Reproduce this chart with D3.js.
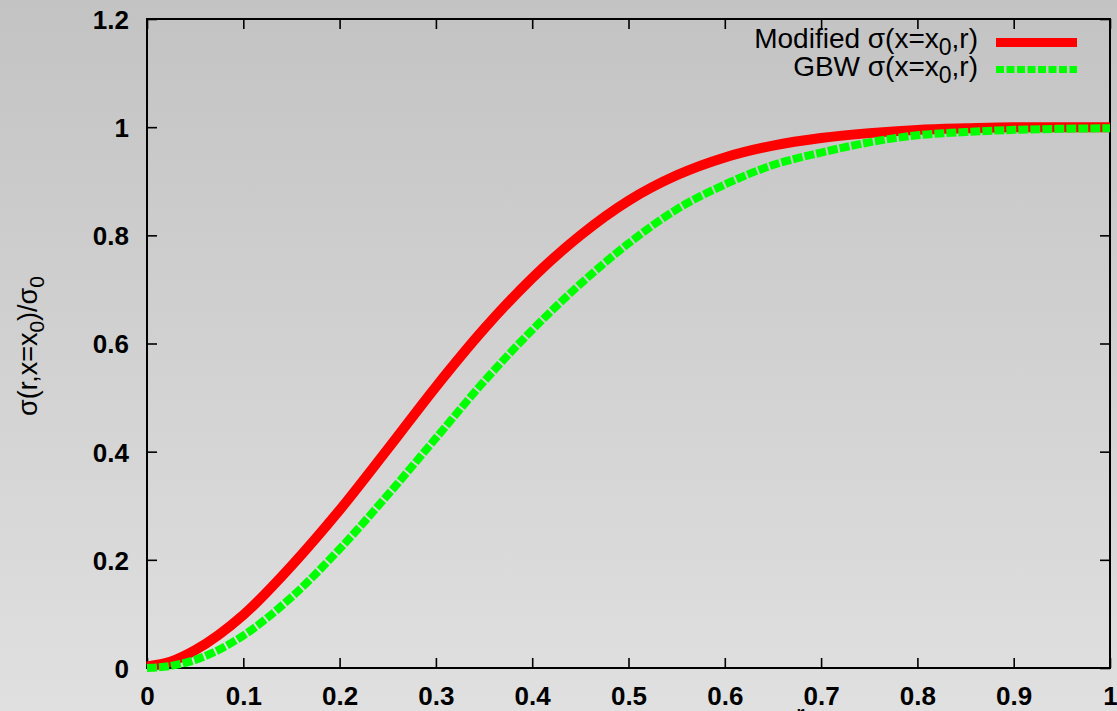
<!DOCTYPE html>
<html>
<head>
<meta charset="utf-8">
<script src="https://cdn.jsdelivr.net/npm/d3@7"></script>
<style>
  html, body { margin: 0; padding: 0; overflow: hidden; }
  svg { display: block; }
  text { font-family: "Liberation Sans", Arial, Helvetica, sans-serif; fill: #000; }
</style>
</head>
<body>
<svg id="chart" width="1117" height="711"></svg>
<script>
// Dipole cross section at x = x0, normalised to sigma_0, versus r
const rValues = [0, 0.025, 0.05, 0.1, 0.15, 0.2, 0.25, 0.3, 0.35, 0.4, 0.45, 0.5,
                 0.55, 0.6, 0.65, 0.7, 0.75, 0.8, 0.85, 0.9, 0.95, 1.0];
const modifiedSigma = [0.003, 0.012, 0.033, 0.098, 0.189, 0.292, 0.405, 0.520, 0.627, 0.721, 0.800, 0.864,
                       0.911, 0.944, 0.966, 0.980, 0.989, 0.995, 0.998, 1.000, 1.000, 1.000];
const gbwSigma = [0.000, 0.004, 0.015, 0.060, 0.131, 0.220, 0.320, 0.425, 0.530, 0.625, 0.710, 0.785,
                  0.848, 0.894, 0.930, 0.953, 0.972, 0.985, 0.991, 0.995, 0.997, 0.998];

const xTicks = [0, 0.1, 0.2, 0.3, 0.4, 0.5, 0.6, 0.7, 0.8, 0.9, 1];
const xTickLabels = ["0", "0.1", "0.2", "0.3", "0.4", "0.5", "0.6", "0.7", "0.8", "0.9", "1"];
const yTicks = [0, 0.2, 0.4, 0.6, 0.8, 1, 1.2];
const yTickLabels = ["0", "0.2", "0.4", "0.6", "0.8", "1", "1.2"];

const svg = d3.select("#chart");
const W = 1117, H = 711;
const plot = { left: 147, right: 1110, top: 19, bottom: 668 };

// page background: soft vertical grey gradient
const defs = svg.append("defs");
const grad = defs.append("linearGradient")
  .attr("id", "bg").attr("x1", 0).attr("y1", 0).attr("x2", 0).attr("y2", 1);
grad.append("stop").attr("offset", "0%").attr("stop-color", "#c3c3c3");
grad.append("stop").attr("offset", "100%").attr("stop-color", "#e0e0e0");
svg.append("rect").attr("width", W).attr("height", H).attr("fill", "url(#bg)");

const x = d3.scaleLinear().domain([0, 1]).range([plot.left, plot.right]);
const y = d3.scaleLinear().domain([0, 1.2]).range([plot.bottom, plot.top]);

const tickLen = 10;
const axisStyle = g => {
  g.select(".domain").remove();
  g.selectAll(".tick line").attr("stroke", "#000").attr("stroke-width", 1.6);
  g.selectAll(".tick text")
    .style("font-size", "26px").style("font-weight", "bold")
    .attr("fill", "#000");
};

// bottom axis (ticks pointing into the plot)
svg.append("g")
  .attr("transform", `translate(0,${plot.bottom})`)
  .call(d3.axisBottom(x).tickValues(xTicks)
    .tickFormat((d, i) => xTickLabels[i]).tickSizeInner(-tickLen).tickSizeOuter(0).tickPadding(20))
  .call(axisStyle)
  .call(g => g.selectAll(".tick text").attr("dy", 0).attr("y", 37));

// top mirror ticks
svg.append("g")
  .attr("transform", `translate(0,${plot.top})`)
  .call(d3.axisTop(x).tickValues(xTicks).tickFormat("").tickSizeInner(-tickLen).tickSizeOuter(0))
  .call(axisStyle);

// left axis
svg.append("g")
  .attr("transform", `translate(${plot.left},0)`)
  .call(d3.axisLeft(y).tickValues(yTicks)
    .tickFormat((d, i) => yTickLabels[i]).tickSizeInner(-tickLen).tickSizeOuter(0).tickPadding(18))
  .call(axisStyle)
  .call(g => g.selectAll(".tick text").attr("x", -18).attr("dy", "0.36em"));

// right mirror ticks
svg.append("g")
  .attr("transform", `translate(${plot.right},0)`)
  .call(d3.axisRight(y).tickValues(yTicks).tickFormat("").tickSizeInner(-tickLen).tickSizeOuter(0))
  .call(axisStyle);

// plot frame
svg.append("rect")
  .attr("x", plot.left).attr("y", plot.top)
  .attr("width", plot.right - plot.left).attr("height", plot.bottom - plot.top)
  .attr("fill", "none").attr("stroke", "#000").attr("stroke-width", 2);

// curves
const line = (vals) => d3.line()
  .x((d, i) => x(rValues[i]))
  .y(d => y(d))
  .curve(d3.curveMonotoneX)(vals);

svg.append("path")
  .attr("d", line(modifiedSigma))
  .attr("fill", "none").attr("stroke", "#ff0000").attr("stroke-width", 10);

svg.append("path")
  .attr("d", line(gbwSigma))
  .attr("fill", "none").attr("stroke", "#00ff00").attr("stroke-width", 8)
  .attr("stroke-dasharray", "10,2");

// legend
const legend = [
  { name: "Modified", color: "#ff0000", width: 9, dash: null, baseline: 48, mid: 42.5 },
  { name: "GBW", color: "#00ff00", width: 7, dash: "8,2.5", baseline: 76, mid: 69.5 }
];
legend.forEach(item => {
  const t = svg.append("text")
    .attr("x", 978).attr("y", item.baseline)
    .attr("text-anchor", "end")
    .style("font-size", "28px");
  t.append("tspan").text(item.name + " σ(x=x");
  t.append("tspan").attr("dy", 7).style("font-size", "23px").text("0");
  t.append("tspan").attr("dy", -7).text(",r)");
  svg.append("line")
    .attr("x1", 996).attr("x2", 1077).attr("y1", item.mid).attr("y2", item.mid)
    .attr("stroke", item.color).attr("stroke-width", item.width)
    .attr("stroke-dasharray", item.dash);
});

// y-axis title
const yt = svg.append("text")
  .attr("transform", "translate(37,346) rotate(-90)")
  .attr("text-anchor", "middle")
  .style("font-size", "27px");
yt.append("tspan").text("σ(r,x=x");
yt.append("tspan").attr("dy", 7).style("font-size", "21px").text("0");
yt.append("tspan").attr("dy", -7).text(")/σ");
yt.append("tspan").attr("dy", 7).style("font-size", "21px").text("0");

// x-axis title (runs below the visible area)
svg.append("text")
  .attr("x", 796).attr("y", 723)
  .style("font-size", "26px")
  .text("r");
</script>
</body>
</html>
